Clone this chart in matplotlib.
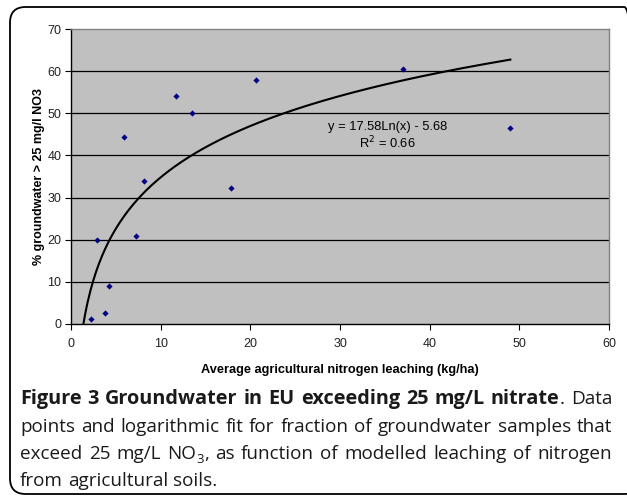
import numpy as np
import matplotlib
matplotlib.use("Agg")
import matplotlib.pyplot as plt
from matplotlib.patches import FancyBboxPatch

# Data
leaching = [2.2, 2.9, 3.8, 4.2, 5.9, 7.2, 8.1, 11.7, 13.5, 17.8, 20.6, 37.0, 49.0]
pct_exceed = [1.3, 20.0, 2.5, 8.9, 44.4, 21.0, 34.0, 54.0, 50.1, 32.2, 58.0, 60.6, 46.6]
fit_a = 17.58
fit_b = -5.68
fit_xmax = 49.0
xticks = [0, 10, 20, 30, 40, 50, 60]
yticks = [0, 10, 20, 30, 40, 50, 60, 70]

W, H = 627, 497
fig = plt.figure(figsize=(W / 100, H / 100), dpi=100)

def fx(px):
    return px / W

def fy(py):
    return 1 - py / H

# rounded border
border = FancyBboxPatch((fx(10), fy(494)), fx(640) - fx(10), fy(7) - fy(494),
                        boxstyle="round,pad=0,rounding_size=0.025",
                        transform=fig.transFigure, fill=False, ec="black", lw=1.3,
                        mutation_aspect=W / H, clip_on=False)
fig.patches.append(border)

ax = fig.add_axes([fx(71), fy(324), fx(609) - fx(71), fy(29) - fy(324)])
ax.set_facecolor("#C0C0C0")
ax.set_xlim(0, 60)
ax.set_ylim(0, 70)
ax.set_xticks(xticks)
ax.set_yticks(yticks)
for y in yticks[1:-1]:
    ax.axhline(y, color="black", lw=0.9, zorder=1)

for s in ["top", "right"]:
    ax.spines[s].set_color("#808080")
    ax.spines[s].set_linewidth(1.0)
for s in ["left", "bottom"]:
    ax.spines[s].set_color("black")
    ax.spines[s].set_linewidth(1.0)

af = "Liberation Sans"
ax.tick_params(axis="both", direction="out", length=4, width=0.8, colors="black",
               labelsize=9)
ax.tick_params(axis="x", pad=6)
ax.tick_params(axis="y", pad=3)
for lab in ax.get_xticklabels() + ax.get_yticklabels():
    lab.set_fontfamily(af)
    lab.set_color("#222222")

xf = np.linspace(np.exp(-fit_b / fit_a), fit_xmax, 300)
ax.plot(xf, fit_a * np.log(xf) + fit_b, color="black", lw=1.5, zorder=3)
ax.scatter(leaching, pct_exceed, marker="D", s=10, color="#000080", zorder=4, lw=0)

ax.text(35.3, 46.8, "y = 17.58Ln(x) - 5.68", ha="center", va="center",
        fontsize=9.3, family=af)
ax.text(35.3, 43.0, r"R$^2$ = 0.66", ha="center", va="center",
        fontsize=9.3, family=af)

ax.set_xlabel("Average agricultural nitrogen leaching (kg/ha)", fontsize=9.2,
              fontweight="bold", family=af, labelpad=10)
ax.set_ylabel("% groundwater > 25 mg/l NO3", fontsize=9,
              fontweight="bold", family=af, labelpad=1.5)

# Caption (justified)
cf = "Open Sans"
lines = [
    [("Figure", "bold"), ("3", "bold"), ("Groundwater", "bold"), ("in", "bold"),
     ("EU", "bold"), ("exceeding", "bold"), ("25", "bold"), ("mg/L", "bold"),
     ("nitrate", "bold", "."), ("Data", "normal")],
    [(w, "normal") for w in "points and logarithmic fit for fraction of groundwater samples that".split()],
    [(w, "normal") for w in "exceed 25 mg/L".split()] + [("NO", "normal", "3,")] +
    [(w, "normal") for w in "as function of modelled leaching of nitrogen".split()],
    [(w, "normal") for w in "from agricultural soils.".split()],
]
baselines = [404, 432, 459, 486]
x_left, x_right = 20, 612

fig.canvas.draw()
renderer = fig.canvas.get_renderer()

def width_of(t):
    return t.get_window_extent(renderer=renderer).width

def text_w(s, size, weight="normal"):
    t = fig.text(0, 0, s, fontsize=size, family=cf, weight=weight)
    w = width_of(t)
    t.remove()
    return w

# caption size so that line 2 fills the width with normal spacing
fs = 10 * (x_right - x_left) / text_w(
    "points and logarithmic fit for fraction of groundwater samples that", 10) * 0.985
space_w = text_w("a a", fs) - text_w("aa", fs)

# bold size so that line 1 fills the width with normal spacing
bold_words = [w[0] for w in lines[0] if w[1] == "bold"]
bw = sum(text_w(w, fs, "bold") for w in bold_words)
rest = text_w(".", fs) + text_w("Data", fs) + space_w * 1.15 * (len(lines[0]) - 1)
fs_b = fs * ((x_right - x_left) * 0.995 - rest) / bw

for li, (words, base) in enumerate(zip(lines, baselines)):
    objs = []
    for w in words:
        parts = []
        size = fs_b if w[1] == "bold" else fs
        t = fig.text(0, fy(base), w[0], fontsize=size, family=cf, weight=w[1],
                     ha="left", va="baseline", color="#1a1a1a")
        parts.append(t)
        if len(w) > 2:
            if w[2] == ".":
                parts.append(fig.text(0, fy(base), ".", fontsize=fs, family=cf,
                                      weight="normal", ha="left", va="baseline",
                                      color="#1a1a1a"))
            else:
                parts.append(fig.text(0, fy(base + 4), "3", fontsize=fs * 0.7, family=cf,
                                      weight="normal", ha="left", va="baseline",
                                      color="#1a1a1a"))
                parts.append(fig.text(0, fy(base), ",", fontsize=fs, family=cf,
                                      weight="normal", ha="left", va="baseline",
                                      color="#1a1a1a"))
        objs.append(parts)
    widths = [sum(width_of(p) for p in parts) for parts in objs]
    total = sum(widths)
    if li < len(lines) - 1:
        gap = (x_right - x_left - total) / (len(objs) - 1)
    else:
        gap = space_w
    x = x_left
    for parts, wdt in zip(objs, widths):
        xx = x
        for t in parts:
            t.set_x(fx(xx))
            xx += width_of(t)
        x += wdt + gap

fig.savefig("out.png", dpi=100)
